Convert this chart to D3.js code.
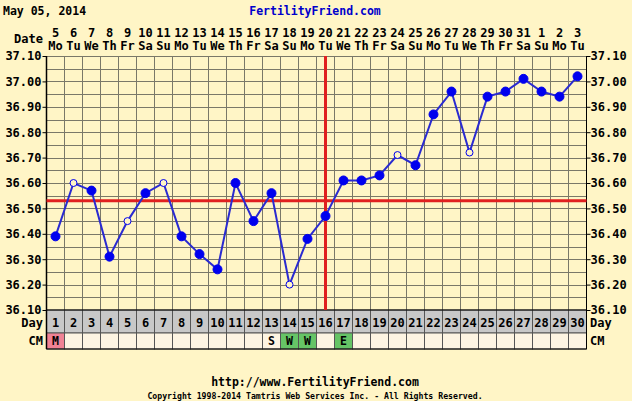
<!DOCTYPE html>
<html>
<head>
<meta charset="utf-8">
<script src="https://cdn.jsdelivr.net/npm/d3@7"></script>
<style>
  body { margin: 0; background: #fff5c6; }
  svg { display: block; }
  text { font-family: "DejaVu Sans Mono", "Liberation Mono", monospace; font-weight: bold; }
</style>
</head>
<body>
<svg id="chart" width="632" height="401"></svg>
<script>
var cycleDays = d3.range(1, 31);
var dateLabels = ["5","6","7","8","9","10","11","12","13","14","15","16","17","18","19","20",
                  "21","22","23","24","25","26","27","28","29","30","31","1","2","3"];
var weekdays = ["Mo","Tu","We","Th","Fr","Sa","Su","Mo","Tu","We","Th","Fr","Sa","Su","Mo","Tu",
                "We","Th","Fr","Sa","Su","Mo","Tu","We","Th","Fr","Sa","Su","Mo","Tu"];
var temps = [36.39, 36.60, 36.57, 36.31, 36.45, 36.56, 36.60, 36.39, 36.32, 36.26,
             36.60, 36.45, 36.56, 36.20, 36.38, 36.47, 36.61, 36.61, 36.63, 36.71,
             36.67, 36.87, 36.96, 36.72, 36.94, 36.96, 37.01, 36.96, 36.94, 37.02];
var openDays = [2, 5, 7, 14, 20, 24];
var tempTicks = [37.10, 37.00, 36.90, 36.80, 36.70, 36.60, 36.50, 36.40, 36.30, 36.20, 36.10];
var coverline = 36.53;
var ovulationDay = 16;
var cmCodes = {1: "M", 13: "S", 14: "W", 15: "W", 17: "E"};
var cmColors = {M: "#f08294", S: null, W: "#66c466", E: "#66c466"};

var svg = d3.select("#chart");
var plotLeft = 46.5, plotRight = 586.5, plotTop = 56, plotBottom = 310;

var x = d3.scaleBand().domain(cycleDays).range([plotLeft, plotRight]);
var y = d3.scaleLinear().domain([36.10, 37.10]).range([plotBottom, plotTop]);
var cx = d => x(d) + x.bandwidth() / 2;

// header
svg.append("text").attr("x", 3).attr("y", 15).attr("font-size", 11.5).attr("fill", "#000")
    .text("May 05, 2014");
svg.append("text").attr("x", 315).attr("y", 15).attr("font-size", 11.5).attr("fill", "#0000cc")
    .attr("text-anchor", "middle").text("FertilityFriend.com");

// date rows
svg.append("text").attr("x", 43).attr("y", 43).attr("font-size", 12).attr("text-anchor", "end").text("Date");
svg.selectAll(".dnum").data(cycleDays).enter().append("text")
    .attr("x", cx).attr("y", 37)
    .attr("font-size", 12).attr("text-anchor", "middle")
    .text((d, i) => dateLabels[i]);
svg.selectAll(".wday").data(cycleDays).enter().append("text")
    .attr("x", cx).attr("y", 50)
    .attr("font-size", 12).attr("text-anchor", "middle")
    .text((d, i) => weekdays[i]);

// grid
var grid = svg.append("g").attr("stroke", "#7a7868").attr("stroke-width", 1);
grid.selectAll("line.h").data(d3.range(0, 21)).enter().append("line")
    .attr("x1", plotLeft).attr("x2", plotRight)
    .attr("y1", i => Math.round(y(36.10 + i * 0.05)) + 0.5)
    .attr("y2", i => Math.round(y(36.10 + i * 0.05)) + 0.5);
grid.selectAll("line.v").data(cycleDays.slice(1)).enter().append("line")
    .attr("x1", d => x(d)).attr("x2", d => x(d)).attr("y1", plotTop).attr("y2", plotBottom);

// day row + cm row
var dayRow = svg.append("g");
dayRow.selectAll("rect").data(cycleDays).enter().append("rect")
    .attr("x", d => x(d)).attr("y", plotBottom).attr("width", x.bandwidth()).attr("height", 23)
    .attr("fill", "#c8c8c8").attr("stroke", "#555").attr("stroke-width", 1);
dayRow.selectAll("text").data(cycleDays).enter().append("text")
    .attr("x", cx).attr("y", 327)
    .attr("font-size", 12).attr("text-anchor", "middle").text(d => d);

var cmRow = svg.append("g");
cmRow.selectAll("rect").data(cycleDays).enter().append("rect")
    .attr("x", d => x(d)).attr("y", 333).attr("width", x.bandwidth()).attr("height", 16)
    .attr("fill", d => (cmCodes[d] && cmColors[cmCodes[d]]) || "#fdf4e2")
    .attr("stroke", "#555").attr("stroke-width", 1);
cmRow.selectAll("text").data(cycleDays.filter(d => cmCodes[d])).enter().append("text")
    .attr("x", cx).attr("y", 345)
    .attr("font-size", 11.5).attr("text-anchor", "middle").text(d => cmCodes[d]);

svg.append("text").attr("x", 43).attr("y", 327).attr("font-size", 12).attr("text-anchor", "end").text("Day");
svg.append("text").attr("x", 590).attr("y", 327).attr("font-size", 12).text("Day");
svg.append("text").attr("x", 43).attr("y", 345).attr("font-size", 12).attr("text-anchor", "end").text("CM");
svg.append("text").attr("x", 590).attr("y", 345).attr("font-size", 12).text("CM");

// border lines
svg.append("line").attr("x1", plotLeft).attr("x2", plotLeft).attr("y1", plotTop).attr("y2", 349)
    .attr("stroke", "#000").attr("stroke-width", 1.5);
svg.append("line").attr("x1", plotRight).attr("x2", plotRight).attr("y1", plotTop).attr("y2", 349)
    .attr("stroke", "#000").attr("stroke-width", 1);
svg.append("line").attr("x1", plotLeft).attr("x2", plotRight).attr("y1", plotBottom).attr("y2", plotBottom)
    .attr("stroke", "#000").attr("stroke-width", 1);
svg.append("line").attr("x1", plotLeft).attr("x2", plotRight).attr("y1", 349).attr("y2", 349)
    .attr("stroke", "#000").attr("stroke-width", 1);

// axes
var yl = svg.append("g").attr("transform", `translate(${plotLeft},0)`)
    .call(d3.axisLeft(y).tickValues(tempTicks).tickSize(4).tickPadding(1).tickFormat(d3.format(".2f")));
var yr = svg.append("g").attr("transform", `translate(${plotRight},0)`)
    .call(d3.axisRight(y).tickValues(tempTicks).tickSize(4).tickPadding(0).tickFormat(d3.format(".2f")));
[yl, yr].forEach(function (g) {
    g.select(".domain").remove();
    g.selectAll("line").attr("stroke", "#000");
    g.selectAll("text").attr("font-size", 12).attr("fill", "#000")
        .attr("font-family", "DejaVu Sans Mono").attr("font-weight", "bold");
});

// coverline + ovulation line
svg.append("line").attr("x1", plotLeft).attr("x2", plotRight)
    .attr("y1", y(coverline)).attr("y2", y(coverline))
    .attr("stroke", "#e02020").attr("stroke-width", 3);
svg.append("line")
    .attr("x1", cx(ovulationDay)).attr("x2", cx(ovulationDay))
    .attr("y1", plotTop).attr("y2", plotBottom)
    .attr("stroke", "#e02020").attr("stroke-width", 3);

// temperature line
var line = d3.line().x((d, i) => cx(cycleDays[i])).y(d => y(d));
svg.append("path").datum(temps).attr("d", line)
    .attr("fill", "none").attr("stroke", "#2a2ad0").attr("stroke-width", 2);
svg.selectAll(".pt").data(temps).enter().append("circle")
    .attr("cx", (d, i) => cx(cycleDays[i]))
    .attr("cy", d => y(d))
    .attr("r", (d, i) => openDays.includes(cycleDays[i]) ? 3.5 : 4.5)
    .attr("fill", (d, i) => openDays.includes(cycleDays[i]) ? "#fff5c6" : "#0000ee")
    .attr("stroke", "#0000ee").attr("stroke-width", 1);

// footer
svg.append("text").attr("x", 315).attr("y", 386).attr("font-size", 11.5).attr("text-anchor", "middle")
    .text("http://www.FertilityFriend.com");
svg.append("text").attr("x", 315).attr("y", 399).attr("font-size", 8.2).attr("text-anchor", "middle")
    .attr("font-weight", "normal")
    .text("Copyright 1998-2014 Tamtris Web Services Inc. - All Rights Reserved.");
</script>
</body>
</html>
